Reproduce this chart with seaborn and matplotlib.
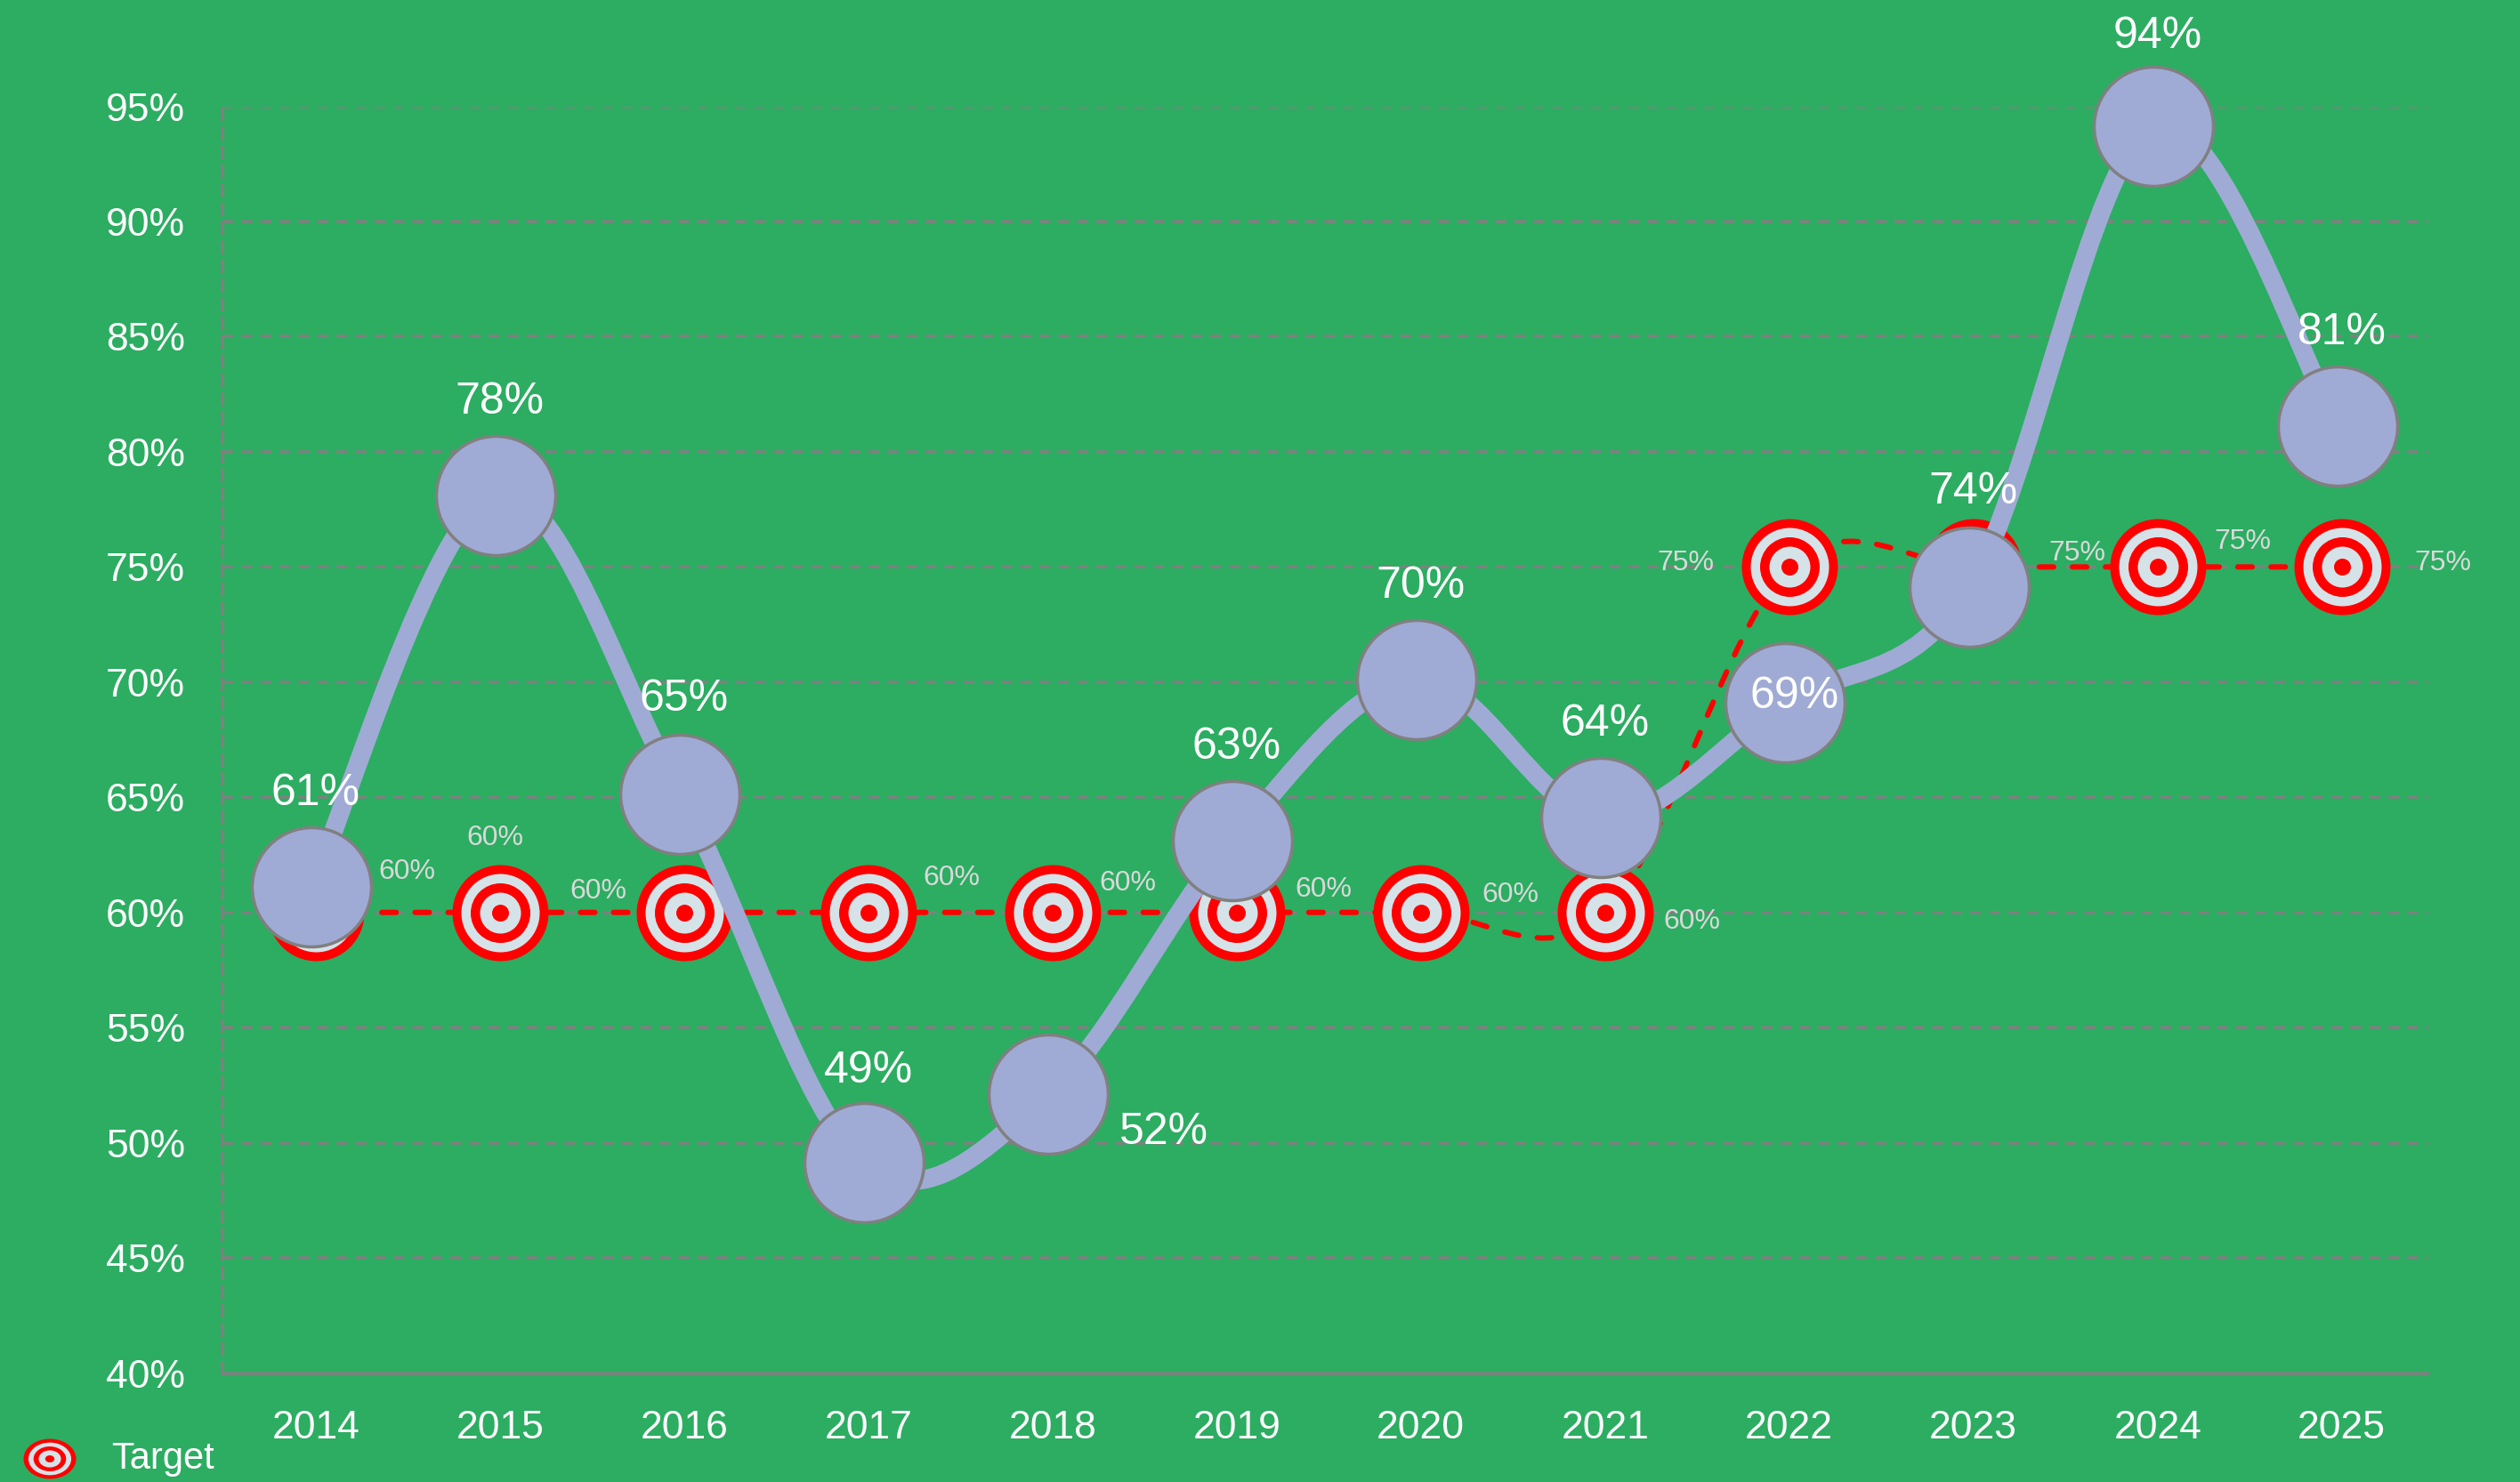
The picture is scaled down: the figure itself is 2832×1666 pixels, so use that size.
import matplotlib
matplotlib.use("Agg")
import matplotlib.pyplot as plt
import numpy as np
import pandas as pd
import seaborn as sns
from matplotlib.patches import Ellipse, PathPatch
from matplotlib.path import Path
from matplotlib.transforms import IdentityTransform

# values
years = [2014, 2015, 2016, 2017, 2018, 2019, 2020, 2021, 2022, 2023, 2024, 2025]
actual = [61, 78, 65, 49, 52, 63, 70, 64, 69, 74, 94, 81]
target = [60, 60, 60, 60, 60, 60, 60, 60, 75, 75, 75, 75]
y_ticks = [40, 45, 50, 55, 60, 65, 70, 75, 80, 85, 90, 95]

# label offsets from the value point, in pixels
actual_offsets = [(0, 108), (0, 108), (0, 110), (0, 106), (125, -40), (0, 108),
                  (0, 108), (0, 108), (6, 10), (0, 110), (0, 104), (0, 108)]
target_offsets = [(103, 46), (-5, 84), (-96, 24), (94, 39), (85, 33), (98, 26),
                  (101, 20), (98, -10), (-116, 4), (117, 15), (96, 28), (114, 4)]

BG = "#2cad62"
BLUE = "#9fabd4"
GREY = "#808080"
RED = "#ff0000"
PALE = "#d5e3e8"

W, H = 2832, 1666
PX = 72 / 100  # points per pixel at dpi 100

sns.set_theme(style="white")
plt.rcParams["font.family"] = ["Liberation Sans"]


def smooth_path(xs, ys):
    # same kind of smoothing a spreadsheet line chart uses
    pts = np.column_stack([xs, ys]).astype(float)
    verts = [pts[0]]
    codes = [Path.MOVETO]
    for i in range(len(pts) - 1):
        before = pts[max(i - 1, 0)]
        after = pts[min(i + 2, len(pts) - 1)]
        verts += [pts[i] + (pts[i + 1] - before) / 6, pts[i + 1] - (after - pts[i]) / 6, pts[i + 1]]
        codes += [Path.CURVE4] * 3
    return Path(verts, codes)


fig = plt.figure(figsize=(W / 100, H / 100), dpi=100, facecolor=BG)
ax = fig.add_axes([250 / W, 1 - 1543.5 / H, (2729 - 250) / W, (1543.5 - 119.5) / H], facecolor=BG)

df = pd.DataFrame({"year": years, "actual": actual, "target": target})
df["pos"] = np.arange(len(df))
# the round markers sit a little up and left of the category centres
df["pos_actual"] = df["pos"] - 0.022
df["y_actual"] = df["actual"] + 0.12

grid_dash = (0, (3.5, 2.6))
for v in y_ticks[1:]:
    ax.axhline(v, color=GREY, lw=3.5 * PX, ls=grid_dash, zorder=1)

# target line and bullseye markers
ax.add_patch(PathPatch(smooth_path(df["pos"], df["target"]), fill=False, edgecolor=RED,
                       lw=6 * PX, ls=(0, (2.7, 3.5)), capstyle="round", zorder=2))
radii = [54, 44, 33.5, 23, 9.5]
ring_colors = [RED, PALE, RED, PALE, RED]
for k, (r, c) in enumerate(zip(radii, ring_colors)):
    sns.scatterplot(data=df, x="pos", y="target", s=(2 * r * PX) ** 2, color=c, linewidth=0,
                    ax=ax, zorder=3 + k * 0.1, clip_on=False, legend=False)

# actual line and round markers
ax.add_patch(PathPatch(smooth_path(df["pos_actual"], df["y_actual"]), fill=False, edgecolor=BLUE,
                       lw=21 * PX, capstyle="round", joinstyle="round", zorder=4))
sns.scatterplot(data=df, x="pos_actual", y="y_actual", s=(134 * PX) ** 2, color=BLUE, edgecolor=GREY,
                linewidth=3.5 * PX, ax=ax, zorder=5, clip_on=False, legend=False)

for i in df["pos"]:
    ax.annotate(f"{actual[i]}%", (i, actual[i]), xytext=actual_offsets[i], textcoords="offset pixels",
                ha="center", va="center", color="white", fontsize=36, zorder=7, annotation_clip=False)
    ax.annotate(f"{target[i]}%", (i, target[i]), xytext=target_offsets[i], textcoords="offset pixels",
                ha="center", va="center", color="#d9d9d9", fontsize=23, zorder=6, annotation_clip=False)

ax.set_xlim(-0.506, 11.47)
ax.set_ylim(40, 95)
ax.set_xticks(df["pos"], [str(y) for y in years])
ax.set_yticks(y_ticks, [f"{v}%" for v in y_ticks])
ax.set_xlabel("")
ax.set_ylabel("")
ax.tick_params(axis="both", length=0, labelsize=32, labelcolor="white", pad=30)

sns.despine(ax=ax, top=True, right=True)
ax.spines["bottom"].set_color(GREY)
ax.spines["bottom"].set_linewidth(3.5 * PX)
ax.spines["left"].set_color(GREY)
ax.spines["left"].set_linewidth(3.5 * PX)
ax.spines["left"].set_linestyle(grid_dash)

# legend in the bottom left corner, squashed like the original icon
for r, c in zip(radii, ring_colors):
    fig.add_artist(Ellipse((56, H - 1640), 2 * r * 59 / 108, 2 * r * 45 / 108, facecolor=c,
                           edgecolor="none", transform=IdentityTransform()))
fig.text(125 / W, 1 - 1640 / H, "Target", color="white", fontsize=30, ha="left", va="center")

fig.savefig("out.png", dpi=100, facecolor=BG)
